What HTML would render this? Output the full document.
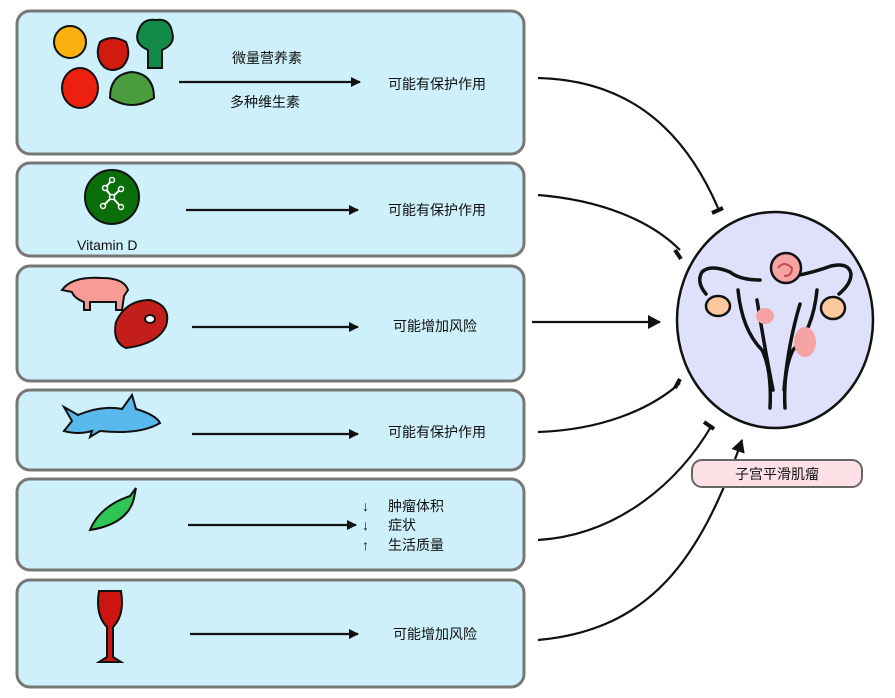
<!DOCTYPE html>
<html><head><meta charset="utf-8"><style>
html,body{margin:0;padding:0;background:#fff;}
svg{display:block;}
text{font-family:"Liberation Sans","Noto Sans CJK SC",sans-serif;fill:#111;}
</style></head><body>
<svg width="895" height="698" viewBox="0 0 895 698" xmlns="http://www.w3.org/2000/svg">
<defs>
<marker id="ah" markerWidth="10" markerHeight="10" refX="9" refY="5" orient="auto" markerUnits="userSpaceOnUse"><path d="M0,0 L10,5 L0,10 Z" fill="#111"/></marker>
<marker id="ah2" markerWidth="14" markerHeight="14" refX="12" refY="7" orient="auto" markerUnits="userSpaceOnUse"><path d="M0,0 L13,7 L0,14 Z" fill="#111"/></marker>
</defs>
<g fill="#cdf0fa" stroke="#777" stroke-width="3">
<rect x="17" y="11" width="507" height="143" rx="13"/>
<rect x="17" y="163" width="507" height="93" rx="13"/>
<rect x="17" y="266" width="507" height="115" rx="13"/>
<rect x="17" y="390" width="507" height="80" rx="13"/>
<rect x="17" y="479" width="507" height="91" rx="13"/>
<rect x="17" y="580" width="507" height="107" rx="13"/>
</g>
<g stroke="#111" stroke-width="2">
<circle cx="70" cy="42" r="16" fill="#fbb012"/>
<path d="M100,42 q12,-8 26,0 q6,15 -4,25 q-10,6 -18,0 q-10,-10 -4,-25z" fill="#d11a10"/>
<path d="M148,68 l0,-18 q-14,-6 -10,-18 q4,-14 18,-12 q14,-2 16,12 q4,12 -10,18 l0,18z" fill="#128a48"/>
<ellipse cx="80" cy="88" rx="18" ry="20" fill="#ee2010"/>
<path d="M110,98 q0,-24 22,-26 q22,2 22,26 q-22,14 -44,0z" fill="#4a9c3e"/>
<circle cx="112" cy="197" r="27" fill="#0a6f0a"/>
<path d="M62,290 q10,-14 40,-12 q22,0 26,12 l-4,6 l-2,14 l-6,0 l0,-8 l-26,0 l0,8 l-6,0 l0,-8 q-10,-4 -12,-10z" fill="#f89a96"/>
<path d="M116,322 q10,-22 34,-22 q22,6 16,26 q-8,18 -40,22 q-14,-6 -10,-26z" fill="#c41e1a"/>
<ellipse cx="150" cy="319" rx="5" ry="4" fill="#fff"/>
<path d="M64,407 l14,8 q24,-10 44,-6 l10,-14 l4,14 q20,6 24,14 q-20,12 -60,8 l-10,6 l2,-6 q-14,4 -28,0 l8,-10z" fill="#5ab9ec"/>
<path d="M90,530 q10,-24 40,-34 l6,-8 l-2,10 q-6,26 -44,32z" fill="#2fc456"/>
<path d="M99,591 l22,0 q4,24 -8,36 l0,30 l8,5 l-22,0 l8,-5 l0,-30 q-12,-12 -8,-36z" fill="#cc1410"/>
</g>
<g stroke="#fff" stroke-width="2" fill="none">
<path d="M112,180 l-7,8 l7,9 l-9,9 M112,197 l9,-8 M112,197 l9,10"/>
</g>
<g fill="#0a6f0a" stroke="#fff" stroke-width="1.5">
<circle cx="112" cy="180" r="2.5"/><circle cx="105" cy="188" r="2.5"/><circle cx="121" cy="189" r="2.5"/><circle cx="112" cy="197" r="2.5"/><circle cx="103" cy="206" r="2.5"/><circle cx="121" cy="207" r="2.5"/>
</g>
<text x="77" y="250" font-size="14" fill="#222">Vitamin D</text>
<g stroke="#111" stroke-width="2.2" fill="none" marker-end="url(#ah)">
<line x1="179" y1="82" x2="360" y2="82"/>
<line x1="186" y1="210" x2="358" y2="210"/>
<line x1="192" y1="327" x2="358" y2="327"/>
<line x1="192" y1="434" x2="358" y2="434"/>
<line x1="188" y1="525" x2="356" y2="525"/>
<line x1="190" y1="634" x2="358" y2="634"/>
</g>
<g font-size="14">
<text x="232" y="63">微量营养素</text>
<text x="230" y="107">多种维生素</text>
<text x="388" y="89">可能有保护作用</text>
<text x="388" y="215">可能有保护作用</text>
<text x="393" y="331">可能增加风险</text>
<text x="388" y="437">可能有保护作用</text>
<text x="362" y="511">↓</text><text x="388" y="511">肿瘤体积</text>
<text x="362" y="530">↓</text><text x="388" y="530">症状</text>
<text x="362" y="550">↑</text><text x="388" y="550">生活质量</text>
<text x="393" y="639">可能增加风险</text>
</g>
<g stroke="#111" stroke-width="2.2" fill="none">
<path d="M538,78 C620,80 680,120 718,208"/>
<path d="M538,195 C600,200 650,220 680,250"/>
<path d="M532,322 L660,322" marker-end="url(#ah2)"/>
<path d="M538,432 C600,430 650,410 680,383"/>
<path d="M538,540 C620,535 680,480 712,425"/>
<path d="M538,640 C650,630 700,560 742,440" marker-end="url(#ah2)"/>
</g>
<g stroke="#111" stroke-width="4">
<line x1="712" y1="213" x2="723" y2="208"/>
<line x1="675" y1="250" x2="681" y2="259"/>
<line x1="675" y1="388" x2="680" y2="379"/>
<line x1="704" y1="422" x2="714" y2="429"/>
</g>
<ellipse cx="775" cy="320" rx="98" ry="108" fill="#dfe1fb" stroke="#111" stroke-width="2.5"/>
<g stroke="#111" stroke-width="3.5" fill="none" stroke-linecap="round">
<path d="M760,280 q-20,0 -30,-8 q-20,-8 -28,0 q-6,10 4,22"/>
<path d="M795,276 q20,-4 36,-10 q18,-4 20,8 q0,10 -12,20"/>
<path d="M738,290 q4,40 24,60 q10,20 8,58"/>
<path d="M817,290 q-4,40 -24,60 q-10,20 -8,58"/>
<path d="M757,300 q8,50 16,90"/>
<path d="M800,304 q-12,40 -16,86"/>
</g>
<g stroke="#111" stroke-width="2.5">
<ellipse cx="718" cy="306" rx="12" ry="10" fill="#fcc99e"/>
<ellipse cx="833" cy="308" rx="12" ry="11" fill="#fcc99e"/>
<circle cx="786" cy="268" r="15" fill="#f5a3a3"/>
</g>
<ellipse cx="765" cy="316" rx="9" ry="8" fill="#f5a3a3"/>
<ellipse cx="805" cy="342" rx="11" ry="15" fill="#f5a3a3"/>
<path d="M778,268 q6,-8 14,0 q0,8 -8,8" stroke="#c0504d" stroke-width="2" fill="none"/>
<rect x="692" y="460" width="170" height="27" rx="10" fill="#fde0e6" stroke="#666" stroke-width="2"/>
<text x="777" y="479" font-size="14" text-anchor="middle">子宫平滑肌瘤</text>
</svg>
</body></html>
